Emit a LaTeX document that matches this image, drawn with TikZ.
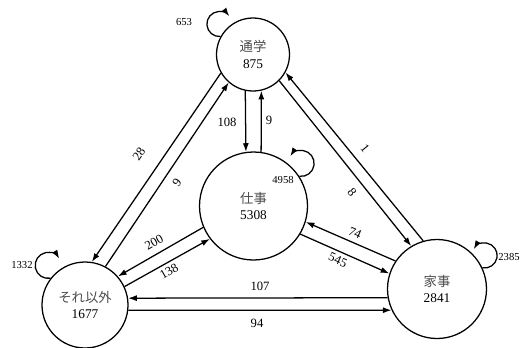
\documentclass[tikz,border=0pt]{standalone}
\usepackage{fontspec}
\setmainfont{Liberation Serif}
\newfontfamily\jpfont{Noto Sans CJK JP}
\usepackage{tikz}
\usetikzlibrary{arrows.meta}
\tikzset{state/.style={circle,draw,line width=0.95pt,inner sep=0pt,align=center,font=\fontsize{10}{12.5}\selectfont}}
\tikzset{trans/.style={-{Latex[length=6.5pt,width=4.5pt]},line width=0.95pt}}
\tikzset{count/.style={inner sep=0pt,font=\fontsize{9.5}{9.5}\selectfont}}
\tikzset{loopcount/.style={inner sep=0pt,font=\fontsize{8}{8}\selectfont}}
\newcommand{\kj}[1]{{\jpfont\color{black!70}#1}}

\begin{document}
\begin{tikzpicture}[x=0.75pt,y=-0.75pt]
    \useasboundingbox (0,0) rectangle (520,347);
    \node[state,minimum size=54.75pt] (T) at (253,54.5) {\kj{通学}\\875};
    \node[state,minimum size=81pt] (C) at (253.5,206) {\kj{仕事}\\5308};
    \node[state,minimum size=64.5pt] (L) at (85,305) {\kj{それ以外}\\1677};
    \node[state,minimum size=74.25pt] (R) at (437,289) {\kj{家事}\\2841};
    % self loops
    \draw[trans] (T.151) arc[start angle=275,end angle=38,radius=9.4pt];
    \draw[trans] (C.33) arc[start angle=262,end angle=507,radius=9.75pt];
    \draw[trans] (L.142) arc[start angle=281,end angle=31,radius=9.75pt];
    \draw[trans] (R.25) arc[start angle=260,end angle=510,radius=9.4pt];
    \node[loopcount] (n653) at (184,22) {653};
    \node[loopcount] (n4958) at (283,180) {4958};
    \node[loopcount] (n1332) at (22,265) {1332};
    \node[loopcount] (n2385) at (509,257) {2385};
    % T <-> C
    \draw[trans] (T.258) -- (C.98);
    \draw[trans] (C.82) -- (T.283);
    \node[count] (n108) at (227,122) {108};
    \node[count] (n9a) at (269,120) {9};
    % T <-> L
    \draw[trans] (T.210) -- (L.81);
    \draw[trans] (L.62) -- (T.229);
    \node[count,rotate=56] (n28) at (139,154) {28};
    \node[count,rotate=56] (n9b) at (177,183) {9};
    % T <-> R
    \draw[trans] (R.106) -- (T.331);
    \draw[trans] (T.315) -- (R.121);
    \node[count,rotate=-51] (n1) at (365,148) {1};
    \node[count,rotate=-51] (n8) at (352,192) {8};
    % C <-> L
    \draw[trans] (C.203) -- (L.41);
    \draw[trans] (L.25) -- (C.217);
    \node[count,rotate=30] (n200) at (154,242) {200};
    \node[count,rotate=30] (n138) at (169,271) {138};
    % C <-> R
    \draw[trans] (R.146) -- (C.343);
    \draw[trans] (C.329) -- (R.162);
    \node[count,rotate=-24] (n74) at (355,233) {74};
    \node[count,rotate=-24] (n545) at (338,260) {545};
    % L <-> R
    \draw[trans] (R.190) -- (L.9);
    \draw[trans] (L.353) -- (R.205);
    \node[count] (n107) at (260,286) {107};
    \node[count] (n94) at (257,323) {94};
\end{tikzpicture}
\end{document}
